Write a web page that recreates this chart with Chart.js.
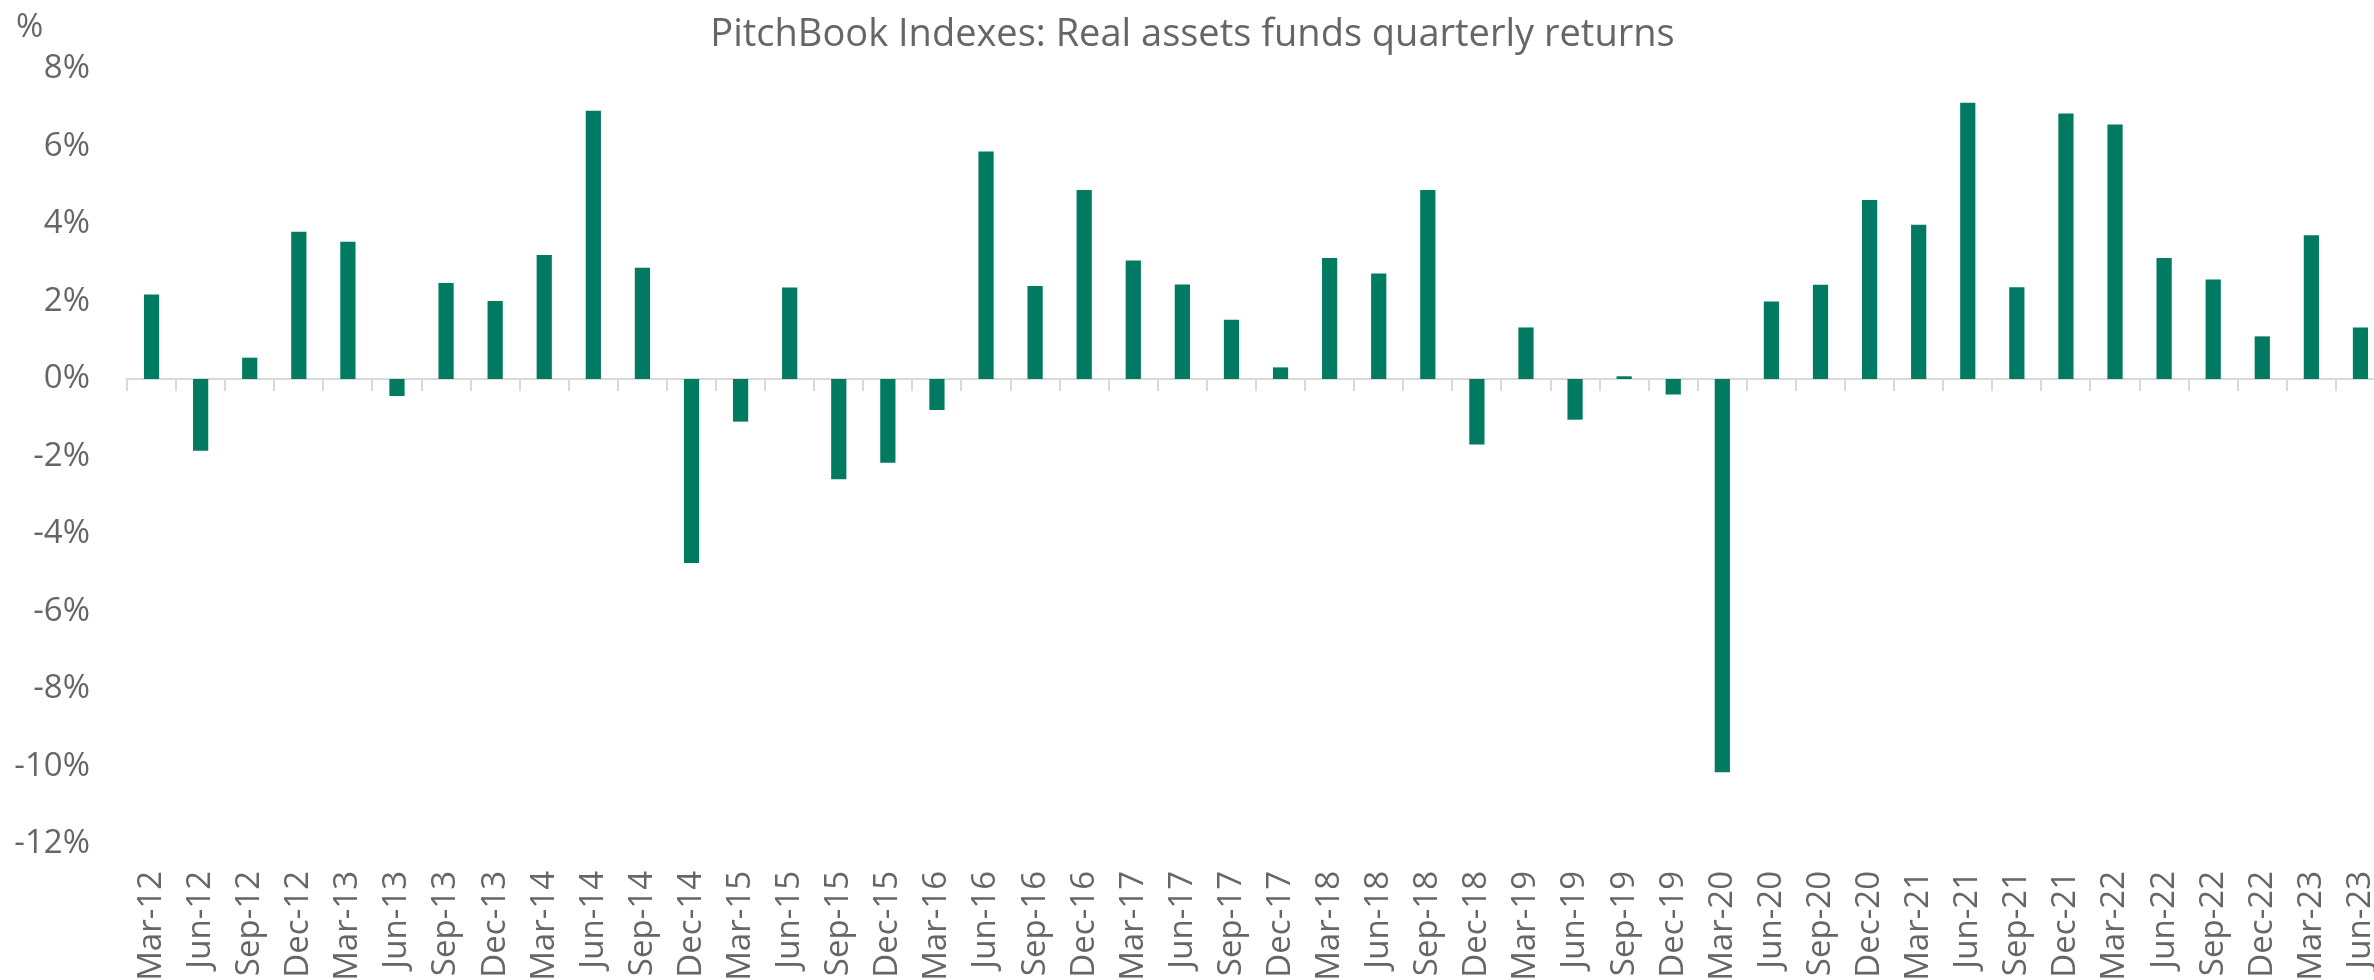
<!DOCTYPE html>
<html>
<head>
<meta charset="utf-8">
<title>PitchBook Indexes: Real assets funds quarterly returns</title>
<script src="https://cdn.jsdelivr.net/npm/chart.js@4.4.1/dist/chart.umd.min.js"></script>
<style>
  html, body { margin: 0; padding: 0; background: #ffffff; overflow: hidden; }
  #wrap { width: 2385px; height: 980px; }
</style>
</head>
<body>
<div id="wrap"><canvas id="chart" width="2385" height="980"></canvas></div>
<script>
// Quarter-end labels, Mar-12 through Jun-23
const quarters = [
  'Mar-12','Jun-12','Sep-12','Dec-12',
  'Mar-13','Jun-13','Sep-13','Dec-13',
  'Mar-14','Jun-14','Sep-14','Dec-14',
  'Mar-15','Jun-15','Sep-15','Dec-15',
  'Mar-16','Jun-16','Sep-16','Dec-16',
  'Mar-17','Jun-17','Sep-17','Dec-17',
  'Mar-18','Jun-18','Sep-18','Dec-18',
  'Mar-19','Jun-19','Sep-19','Dec-19',
  'Mar-20','Jun-20','Sep-20','Dec-20',
  'Mar-21','Jun-21','Sep-21','Dec-21',
  'Mar-22','Jun-22','Sep-22','Dec-22',
  'Mar-23','Jun-23'
];

// Real assets funds quarterly returns, in percent
const returnsPct = [
  2.18, -1.85, 0.55, 3.80,
  3.54, -0.44, 2.48, 2.01,
  3.20, 6.92, 2.87, -4.75,
  -1.10, 2.36, -2.59, -2.16,
  -0.80, 5.87, 2.40, 4.88,
  3.06, 2.44, 1.53, 0.30,
  3.12, 2.72, 4.88, -1.69,
  1.33, -1.05, 0.07, -0.40,
  -10.15, 2.00, 2.43, 4.62,
  3.98, 7.13, 2.37, 6.85,
  6.57, 3.12, 2.57, 1.10,
  3.71, 1.33
];

// Value axis range and step, in percent
const yMin = -12;
const yMax = 8;
const yStep = 2;

const TEXT = '#666666';
const AXIS = '#d9d9d9';
const BAR = '#007b62';
const FONT = "'Open Sans', 'Noto Sans', sans-serif";

// Unit marker above the value axis
const unitLabel = {
  id: 'unitLabel',
  afterDraw(chart) {
    const ctx = chart.ctx;
    ctx.save();
    ctx.font = '33px ' + FONT;
    ctx.fillStyle = TEXT;
    ctx.textAlign = 'left';
    ctx.textBaseline = 'alphabetic';
    ctx.fillText('%', 16, 37);
    ctx.restore();
  }
};

new Chart(document.getElementById('chart'), {
  type: 'bar',
  data: {
    labels: quarters,
    datasets: [{
      data: returnsPct,
      backgroundColor: BAR,
      borderWidth: 0,
      barPercentage: 0.31,
      categoryPercentage: 1.0,
      xAxisID: 'x',
      yAxisID: 'y'
    }]
  },
  options: {
    responsive: false,
    animation: false,
    layout: { padding: { left: 0, right: 0, top: 0, bottom: 0 } },
    plugins: {
      legend: { display: false },
      tooltip: { enabled: false },
      title: {
        display: true,
        text: 'PitchBook Indexes: Real assets funds quarterly returns',
        color: TEXT,
        font: { family: FONT, size: 38, weight: 'normal', lineHeight: 1.2 },
        padding: { top: 12, bottom: 11.4 }
      }
    },
    scales: {
      x: {
        type: 'category',
        position: 'bottom',
        grid: { display: false, drawTicks: false },
        border: { display: false },
        ticks: {
          autoSkip: false,
          minRotation: 90,
          maxRotation: 90,
          padding: 27,
          color: TEXT,
          font: { family: FONT, size: 33 }
        },
        afterFit(scale) {
          scale.height = 136;
          // the plot runs to the right edge; labels there may be cut
          scale.paddingLeft = 0;
          scale.paddingRight = 0;
        }
      },
      // zero line with category tick marks, crossing the value axis at 0
      xZero: {
        type: 'category',
        labels: quarters,
        offset: true,
        position: { y: 0 },
        ticks: { display: false },
        grid: {
          offset: true,
          drawOnChartArea: false,
          drawTicks: true,
          tickLength: 11,
          lineWidth: 2,
          color: AXIS
        },
        border: { display: true, color: AXIS, width: 2 },
        afterFit(scale) {
          scale.paddingLeft = 0;
          scale.paddingRight = 0;
        }
      },
      y: {
        type: 'linear',
        position: 'left',
        min: yMin,
        max: yMax,
        grid: { display: false, drawTicks: false },
        border: { display: false },
        ticks: {
          stepSize: yStep,
          padding: 37,
          color: TEXT,
          font: { family: FONT, size: 33 },
          callback: (v) => v + '%'
        },
        afterFit(scale) {
          scale.width = 127;
          scale.paddingTop = 0;
          scale.paddingBottom = 0;
        }
      }
    }
  },
  plugins: [unitLabel]
});
</script>
</body>
</html>
